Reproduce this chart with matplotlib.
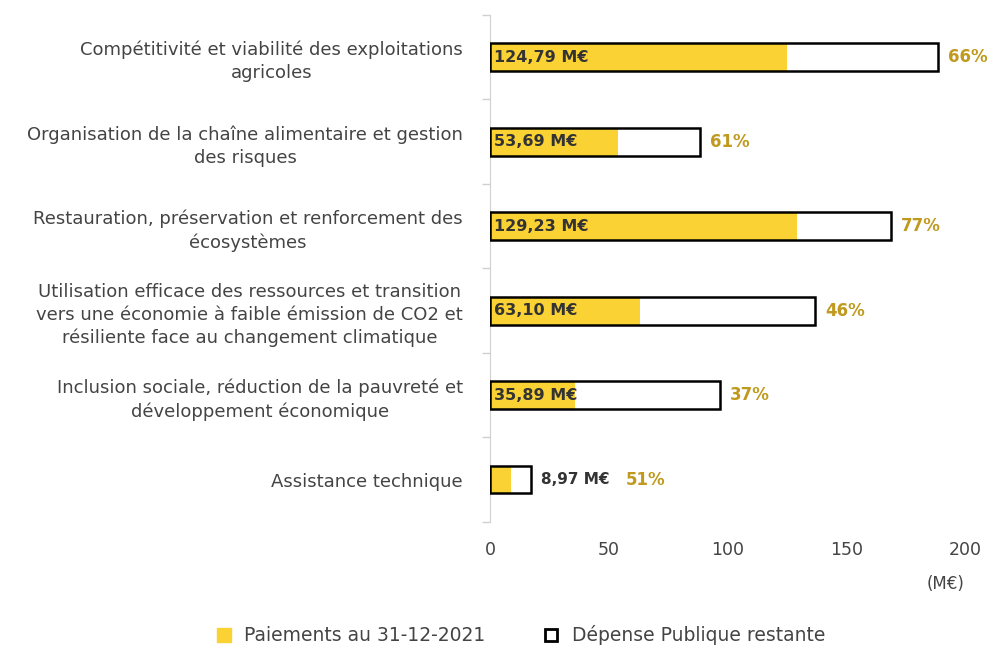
import matplotlib
matplotlib.use("Agg")
import matplotlib.pyplot as plt
from matplotlib.lines import Line2D

categories = [
    "Compétitivité et viabilité des exploitations\nagricoles",
    "Organisation de la chaîne alimentaire et gestion\ndes risques",
    "Restauration, préservation et renforcement des\nécosystèmes",
    "Utilisation efficace des ressources et transition\nvers une économie à faible émission de CO2 et\nrésiliente face au changement climatique",
    "Inclusion sociale, réduction de la pauvreté et\ndéveloppement économique",
    "Assistance technique",
]
paid = [124.79, 53.69, 129.23, 63.10, 35.89, 8.97]
total = [188.6, 88.5, 168.7, 136.8, 96.8, 17.4]
pct_labels = ["66%", "61%", "77%", "46%", "37%", "51%"]
paid_labels = ["124,79 M€", "53,69 M€", "129,23 M€", "63,10 M€", "35,89 M€", "8,97 M€"]

yellow = "#FBD234"
gold = "#BF9A1E"
grey = "#444444"

plt.rcParams['font.family'] = ['DejaVu Sans']

fig = plt.figure(figsize=(9.9, 6.45), dpi=100)
ax = fig.add_axes([0.495, 0.191, 0.48, 0.786])

ypos = list(range(len(categories)))
ax.barh(ypos, paid, height=0.33, color=yellow, edgecolor='none', zorder=2)
ax.barh(ypos, total, height=0.33, fill=False, edgecolor='black', linewidth=1.8, zorder=3)

for i in ypos:
    if paid[i] > 20:
        ax.annotate(paid_labels[i], (0, i), xytext=(3, 0), textcoords='offset points',
                    ha='left', va='center', fontsize=11.5, fontweight='bold', color='#333333', zorder=4)
        ax.annotate(pct_labels[i], (total[i], i), xytext=(7, 0), textcoords='offset points',
                    ha='left', va='center', fontsize=12, fontweight='bold', color=gold)
    else:
        ax.annotate(paid_labels[i], (total[i], i), xytext=(7, 0), textcoords='offset points',
                    ha='left', va='center', fontsize=11, fontweight='bold', color='#333333')
        ax.annotate(pct_labels[i], (total[i], i), xytext=(68, 0), textcoords='offset points',
                    ha='left', va='center', fontsize=12, fontweight='bold', color=gold)

ax.set_xlim(0, 200)
ax.set_ylim(len(categories) - 0.5, -0.5)
ax.set_xticks([0, 50, 100, 150, 200])
ax.tick_params(axis='x', length=0, pad=14, labelsize=12.5, labelcolor=grey)
ax.set_yticks(ypos)
ax.set_yticklabels(categories, ha='right', multialignment='center', fontsize=13, color=grey,
                   linespacing=1.35)
ax.tick_params(axis='y', which='major', length=0, pad=19.5)
ax.set_yticks([i + 0.5 for i in range(-1, len(categories))], minor=True)
ax.tick_params(axis='y', which='minor', length=6, color='#d0d0d0', width=1)

for s in ['top', 'right', 'bottom']:
    ax.spines[s].set_visible(False)
ax.spines['left'].set_color('#d0d0d0')

fig.text(0.955, 0.095, "(M€)", ha='center', va='center', fontsize=12, color=grey)

handles = [
    Line2D([], [], marker='s', linestyle='none', markersize=10, markerfacecolor=yellow, markeredgecolor=yellow),
    Line2D([], [], marker='s', linestyle='none', markersize=9, markerfacecolor='white', markeredgecolor='black',
           markeredgewidth=2),
]
fig.legend(handles, ["Paiements au 31-12-2021", "Dépense Publique restante"], loc='center',
           bbox_to_anchor=(0.525, 0.015), ncol=2, frameon=False, fontsize=13.5, labelcolor=grey,
           columnspacing=3, handletextpad=0.6, handlelength=1)

fig.savefig("out.png", dpi=100)
